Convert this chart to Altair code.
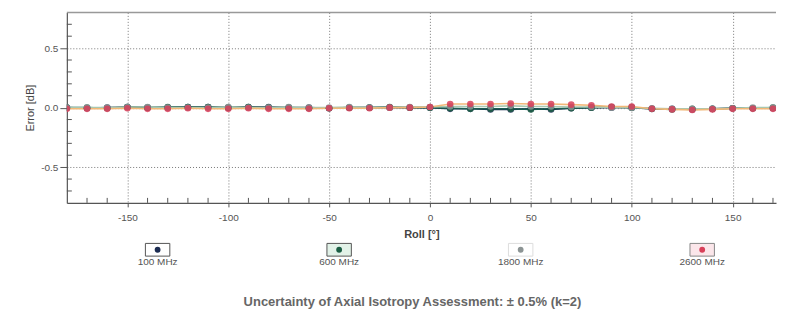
import altair as alt
import pandas as pd

# ---------------- data ----------------
roll = list(range(-180, 181, 10))
freqs = ["100 MHz", "600 MHz", "1800 MHz", "2600 MHz"]
dot_colors = ["#1c2c52", "#1b5e44", "#8c9494", "#d8405a"]
line_colors = ["#1c2c52", "#1b5e50", "#a8c8b0", "#f2b878"]
box_fills = ["#ffffff", "#e2f2e8", "#ffffff", "#fbe6ea"]
box_strokes = ["#555555", "#555555", "#dddddd", "#888888"]

err_100 = [0.0, -0.005, 0.0, 0.005, 0.0, 0.0, 0.005, 0.005, 0.0, 0.005, 0.005, 0.0, 0.0, -0.005, 0.0, 0.0, 0.0, 0.0,
           0.0,
           -0.01, -0.01, -0.015, -0.015, -0.01, -0.015, -0.005, 0.0, 0.0, 0.0, -0.01, -0.01, -0.015, -0.01, -0.005, -0.005, -0.005, -0.005]
err_600 = [0.0, 0.0, -0.005, 0.005, 0.0, 0.005, 0.005, 0.005, 0.0, 0.005, 0.0, 0.0, -0.005, -0.005, 0.0, 0.0, 0.005, 0.0,
           0.0,
           -0.005, -0.01, -0.01, -0.01, -0.015, -0.01, -0.005, 0.0, 0.005, 0.0, -0.01, -0.015, -0.01, -0.01, -0.005, -0.005, 0.0, 0.0]
err_1800 = [0.0, 0.0, 0.0, 0.005, 0.005, 0.0, 0.0, 0.0, 0.005, 0.0, 0.0, 0.005, 0.0, 0.0, 0.005, 0.0, 0.0, 0.005,
            0.005,
            0.01, 0.01, 0.01, 0.015, 0.01, 0.01, 0.005, 0.005, 0.0, 0.0, -0.005, -0.01, -0.01, -0.01, -0.005, 0.0, 0.0, 0.0]
err_2600 = [-0.01, -0.01, -0.01, -0.005, -0.01, -0.01, -0.005, -0.01, -0.01, -0.005, -0.01, -0.01, -0.01, -0.005, -0.005, -0.005, 0.0, 0.0,
            0.005,
            0.03, 0.03, 0.03, 0.035, 0.03, 0.03, 0.025, 0.02, 0.01, 0.01, -0.01, -0.015, -0.02, -0.015, -0.01, -0.01, -0.01, -0.01]

x_major = [-150, -100, -50, 0, 50, 100, 150]
x_minor = [v for v in range(-170, 180, 10) if v % 50 != 0]
y_major = [-0.5, 0.0, 0.5]
y_minor = [-0.7, -0.6, -0.4, -0.3, -0.2, -0.1, 0.1, 0.2, 0.3, 0.4, 0.6, 0.7]

caption = "Uncertainty of Axial Isotropy Assessment: \u00b1 0.5% (k=2)"

# ---------------- tables ----------------
series = {"100 MHz": err_100, "600 MHz": err_600, "1800 MHz": err_1800, "2600 MHz": err_2600}
draw_order = ["100 MHz", "600 MHz", "1800 MHz", "2600 MHz"]
rows = []
for i, f in enumerate(draw_order):
    for r, e in zip(roll, series[f]):
        rows.append({"roll": r, "err": e, "freq": f, "k": i})
df = pd.DataFrame(rows)

W = 711
H = 191
FONT = "Liberation Sans"

xscale = alt.Scale(domain=[-180, 171.5], nice=False, zero=False)
yscale = alt.Scale(domain=[-0.8, 0.8], nice=False, zero=False)
lscale = alt.Scale(domain=freqs, range=line_colors)
pscale = alt.Scale(domain=freqs, range=dot_colors)

x_enc = alt.X("roll:Q", scale=xscale,
              axis=alt.Axis(values=x_major, title="Roll [\u00b0]", grid=True,
                            gridDash=[1, 2], gridColor="#777", gridWidth=1,
                            domainColor="#555", domainWidth=1.2,
                            tickColor="#555", tickSize=4, labelPadding=6,
                            labelExpr="datum.value + ''",
                            labelFont=FONT, labelFontSize=10, labelColor="#555",
                            titleFont=FONT, titleFontSize=11, titleFontWeight="bold",
                            titleColor="#444", titlePadding=6))
y_enc = alt.Y("err:Q", scale=yscale,
              axis=alt.Axis(values=y_major, title="Error [dB]", grid=True,
                            gridDash=[1, 2], gridColor="#777", gridWidth=1,
                            domainColor="#555", domainWidth=1.2,
                            tickColor="#555", tickSize=7, labelPadding=2,
                            labelExpr="replace(format(datum.value, '.1f'), '\u2212', '-')",
                            labelFont=FONT, labelFontSize=10, labelColor="#555",
                            titleFont=FONT, titleFontSize=11, titleFontWeight="normal",
                            titleColor="#444", titlePadding=5))

base = alt.Chart(df)
lines = base.mark_line(strokeWidth=1.6, clip=True).encode(
    x=x_enc, y=y_enc,
    color=alt.Color("freq:N", scale=lscale, legend=None),
    detail="freq:N", order=alt.Order("roll:Q"))
points = base.mark_point(size=44, filled=True, opacity=0.85, clip=True).encode(
    x="roll:Q", y="err:Q",
    fill=alt.Fill("freq:N", scale=pscale, legend=None),
    order=alt.Order("k:Q"))

xminor = alt.Chart(pd.DataFrame({"v": x_minor})).mark_rule(color="#555", strokeWidth=1).encode(
    x=alt.X("v:Q", scale=xscale), y=alt.value(H), y2=alt.value(H - 5))
yminor = alt.Chart(pd.DataFrame({"v": y_minor})).mark_rule(color="#555", strokeWidth=1).encode(
    y=alt.Y("v:Q", scale=yscale), x=alt.value(0), x2=alt.value(5))
topline = alt.Chart(pd.DataFrame({"a": [0]})).mark_rule(color="#999", strokeWidth=1.5).encode(
    x=alt.value(0), x2=alt.value(W), y=alt.value(0))

main = alt.layer(lines, points, xminor, yminor, topline).properties(
    width=W, height=H, view=alt.ViewBackground(stroke="transparent"))

# ---------------- legend row ----------------
leg = pd.DataFrame({"freq": freqs, "dot": dot_colors, "box": box_fills, "edge": box_strokes})
xl = alt.X("freq:N", sort=freqs, scale=alt.Scale(type="point", padding=0.4533, align=0.5515), axis=None)
boxes = alt.Chart(leg).mark_point(shape="M-1,-0.52H1V0.52H-1Z", size=600, filled=True,
                                  strokeWidth=1, opacity=1).encode(
    x=xl, y=alt.value(7), fill=alt.Fill("box:N", scale=None),
    stroke=alt.Stroke("edge:N", scale=None))
dots = alt.Chart(leg).mark_circle(size=34, opacity=1).encode(
    x=xl, y=alt.value(7), color=alt.Color("dot:N", scale=None))
labels = alt.Chart(leg).mark_text(font=FONT, fontSize=10, color="#555", baseline="middle").encode(
    x=xl, y=alt.value(19), text="freq:N")

legend_row = alt.layer(boxes, dots, labels).properties(
    width=W, height=30, view=alt.ViewBackground(stroke="transparent"),
    title=alt.TitleParams(caption, orient="bottom", anchor="middle", offset=23, dx=-9,
                          font=FONT, fontSize=13, fontWeight="bold", color="#666"))

chart = alt.vconcat(main, legend_row, spacing=0).properties(
    padding={"left": 16, "top": 2, "right": 0, "bottom": 0})

chart.save("out.html", embed_options={"renderer": "svg", "actions": False})
